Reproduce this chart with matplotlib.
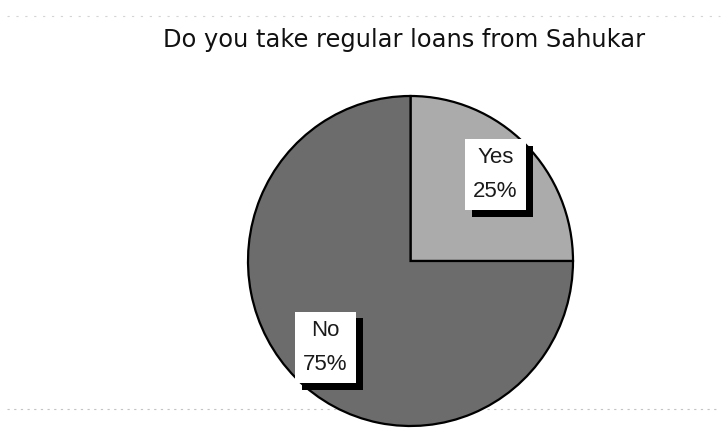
import matplotlib
matplotlib.use("Agg")
import matplotlib.pyplot as plt
import matplotlib.patheffects as pe

title = "Do you take regular loans from Sahukar"
categories = ["Yes", "No"]
values = [25, 75]
colors = ["#ababab", "#6c6c6c"]

plt.rcParams['font.family'] = ['Liberation Sans', 'DejaVu Sans']

fig = plt.figure(figsize=(7.27, 4.33), dpi=100)
W, H = 727, 433
cx, cy, rx, ry = 410.5, 261, 162.5, 165
ax = fig.add_axes([(cx - rx) / W, (H - cy - ry) / H, 2 * rx / W, 2 * ry / H])

labels = [f"{c}\n{v}%" for c, v in zip(categories, values)]
wedges, texts = ax.pie(values, labels=labels, colors=colors, startangle=90,
                       counterclock=False, labeldistance=0.74, radius=1,
                       wedgeprops=dict(edgecolor="black", linewidth=1.6),
                       textprops=dict(fontsize=16, ha="center", va="center",
                                      linespacing=1.85, color="#1a1a1a"))
for t in texts:
    t.set_bbox(dict(boxstyle="square,pad=0.36", facecolor="white",
                    edgecolor="white", linewidth=0))
    t.get_bbox_patch().set_path_effects([
        pe.SimplePatchShadow(offset=(5, -5), shadow_rgbFace="black", alpha=1.0),
        pe.Normal()])
ax.set_xlim(-1.0, 1.0)
ax.set_ylim(-1.0, 1.0)
ax.set_aspect("auto")
ax.axis("off")

fig.text(404 / W, 1 - 40 / H, title, ha="center", va="center", fontsize=17.4,
         family=["DejaVu Sans"], color="#111111")

# faint dotted frame lines (scan artefacts of the chart border), behind the pie
fig.add_artist(plt.Line2D([0.01, 0.99], [1 - 16 / H, 1 - 16 / H], color="#d4d4d4",
                          linestyle=(0, (2, 6)), linewidth=0.8, zorder=-1))
fig.add_artist(plt.Line2D([0.01, 0.99], [1 - 409 / H, 1 - 409 / H], color="#c4c4c4",
                          linestyle=(0, (2, 4)), linewidth=0.8, zorder=-1))

fig.savefig("out.png", dpi=100)
